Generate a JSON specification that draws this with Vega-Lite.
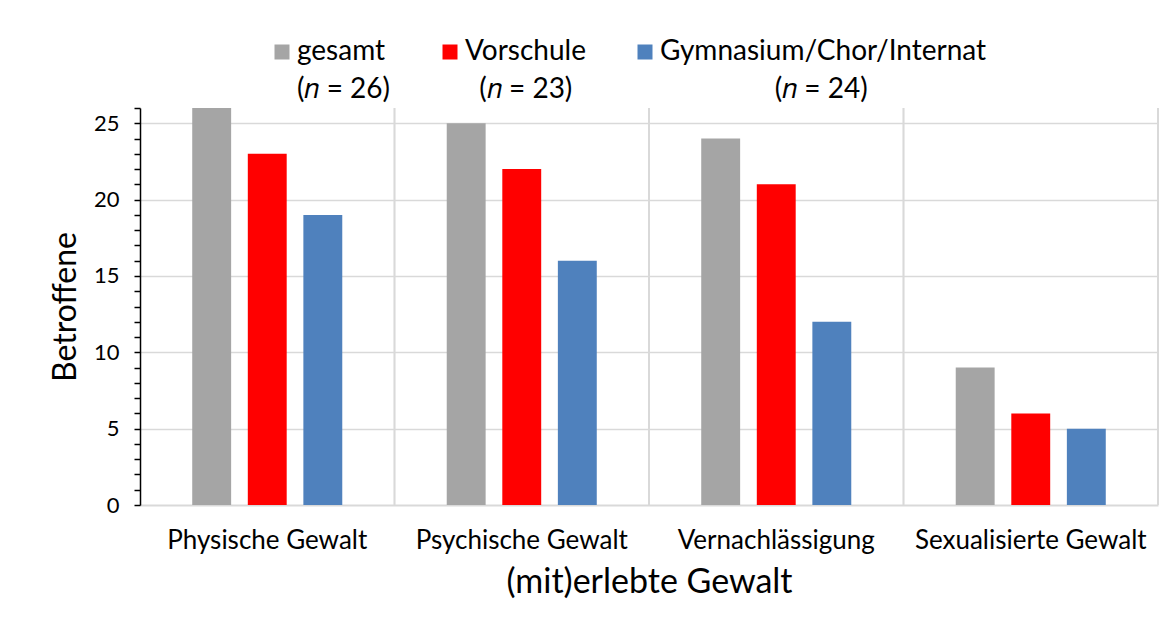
{
  "$schema": "https://vega.github.io/schema/vega-lite/v6.json",
  "autosize": {"type": "none"},
  "width": 1018,
  "height": 397,
  "padding": {"left": 140, "top": 108, "right": 16, "bottom": 119},
  "background": "white",
  "data": {
    "values": [
      {"kategorie": "Physische Gewalt", "gruppe": "gesamt", "anzahl": 26},
      {"kategorie": "Physische Gewalt", "gruppe": "Vorschule", "anzahl": 23},
      {"kategorie": "Physische Gewalt", "gruppe": "Gymnasium/Chor/Internat", "anzahl": 19},
      {"kategorie": "Psychische Gewalt", "gruppe": "gesamt", "anzahl": 25},
      {"kategorie": "Psychische Gewalt", "gruppe": "Vorschule", "anzahl": 22},
      {"kategorie": "Psychische Gewalt", "gruppe": "Gymnasium/Chor/Internat", "anzahl": 16},
      {"kategorie": "Vernachlässigung", "gruppe": "gesamt", "anzahl": 24},
      {"kategorie": "Vernachlässigung", "gruppe": "Vorschule", "anzahl": 21},
      {"kategorie": "Vernachlässigung", "gruppe": "Gymnasium/Chor/Internat", "anzahl": 12},
      {"kategorie": "Sexualisierte Gewalt", "gruppe": "gesamt", "anzahl": 9},
      {"kategorie": "Sexualisierte Gewalt", "gruppe": "Vorschule", "anzahl": 6},
      {"kategorie": "Sexualisierte Gewalt", "gruppe": "Gymnasium/Chor/Internat", "anzahl": 5}
    ]
  },
  "encoding": {
    "x": {
      "field": "kategorie",
      "type": "nominal",
      "sort": ["Physische Gewalt", "Psychische Gewalt", "Vernachlässigung", "Sexualisierte Gewalt"],
      "scale": {"paddingInner": 0, "paddingOuter": 0},
      "axis": {
        "title": "(mit)erlebte Gewalt",
        "labelAngle": 0,
        "ticks": false,
        "grid": false,
        "domainColor": "#d9d9d9",
        "domainWidth": 2,
        "labelFont": "Lato",
        "labelFontSize": 26,
        "labelColor": "#000000",
        "labelPadding": 22,
        "labelLimit": 400,
        "titleFont": "Lato",
        "titleFontSize": 34,
        "titleFontWeight": "normal",
        "titleColor": "#000000",
        "titlePadding": 12
      }
    }
  },
  "layer": [
    {
      "mark": {"type": "rule", "color": "#d9d9d9", "strokeWidth": 1.5},
      "encoding": {
        "x": {
          "field": "kategorie",
          "type": "nominal",
          "bandPosition": 1,
          "sort": ["Physische Gewalt", "Psychische Gewalt", "Vernachlässigung", "Sexualisierte Gewalt"]
        }
      }
    },
    {
      "mark": {"type": "bar"},
      "encoding": {
        "xOffset": {
          "field": "gruppe",
          "type": "nominal",
          "sort": ["gesamt", "Vorschule", "Gymnasium/Chor/Internat"],
          "scale": {"paddingInner": 0.3, "paddingOuter": 0.94}
        },
        "y": {
          "field": "anzahl",
          "type": "quantitative",
          "scale": {"domain": [0, 26], "nice": false},
          "axis": {
            "title": "Betroffene",
            "values": [0,1,2,3,4,5,6,7,8,9,10,11,12,13,14,15,16,17,18,19,20,21,22,23,24,25,26],
            "labelExpr": "datum.value % 5 === 0 ? datum.label : ''",
            "grid": true,
            "gridColor": "#d9d9d9",
            "gridWidth": 1.5,
            "gridOpacity": {"condition": {"test": "datum.value % 5 === 0 && datum.value > 0", "value": 1}, "value": 0},
            "domainColor": "#000000",
            "domainWidth": 1.5,
            "tickColor": "#000000",
            "tickWidth": 1.5,
            "tickSize": 6,
            "labelFont": "Lato",
            "labelFontSize": 22,
            "labelColor": "#000000",
            "labelPadding": 15,
            "titleFont": "Lato",
            "titleFontSize": 32,
            "titleFontWeight": "normal",
            "titleColor": "#000000",
            "titlePadding": 11
          }
        },
        "color": {
          "field": "gruppe",
          "type": "nominal",
          "sort": ["gesamt", "Vorschule", "Gymnasium/Chor/Internat"],
          "scale": {
            "domain": ["gesamt", "Vorschule", "Gymnasium/Chor/Internat"],
            "range": ["#a5a5a5", "#ff0000", "#4f81bd"]
          },
          "legend": {
            "title": null,
            "orient": "none",
            "direction": "horizontal",
            "legendX": 128,
            "legendY": -70,
            "symbolType": "square",
            "symbolSize": 225,
            "symbolStrokeWidth": 0,
            "symbolOpacity": 1,
            "labelFont": "Lato",
            "labelFontSize": 28,
            "labelColor": "#000000",
            "labelOffset": 1,
            "labelLimit": 600,
            "labelBaseline": "middle",
            "columnPadding": 45,
            "labelExpr": "datum.label === 'gesamt' ? ['gesamt', '(\ud835\udc5b = 26)'] : datum.label === 'Vorschule' ? ['Vorschule', '\u200b\u00a0\u00a0(\ud835\udc5b = 23)'] : ['Gymnasium/Chor/Internat', '\u200b\u00a0\u00a0\u00a0\u00a0\u00a0\u00a0\u00a0\u00a0\u00a0\u00a0\u00a0\u00a0\u00a0\u00a0\u00a0\u00a0(\ud835\udc5b = 24)']"
          }
        }
      }
    }
  ],
  "config": {
    "view": {"stroke": null},
    "style": {"guide-label": {"lineHeight": 38}}
  }
}
